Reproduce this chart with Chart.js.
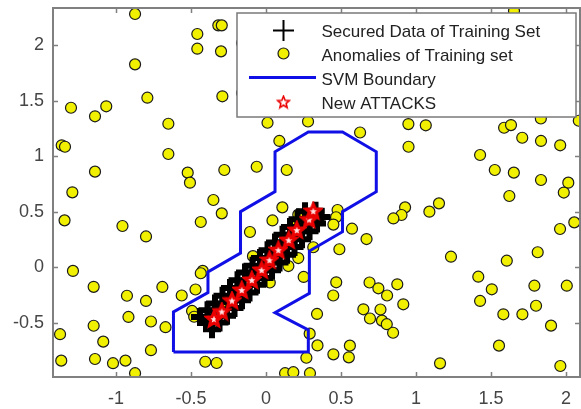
<!DOCTYPE html>
<html>
<head>
<meta charset="utf-8">
<script src="https://cdn.jsdelivr.net/npm/chart.js@4/dist/chart.umd.min.js"></script>
<style>
  html, body { margin: 0; padding: 0; background: #fff; }
  #wrap { width: 581px; height: 409px; }
</style>
</head>
<body>
<div id="wrap"><canvas id="chart" width="581" height="409"></canvas></div>
<script>
// Axis limits and tick labels
const xRange = [-1.42, 2.093];
const yRange = [-0.985, 2.334];
const xTicks = [-1, -0.5, 0, 0.5, 1, 1.5, 2];
const yTicks = [-0.5, 0, 0.5, 1, 1.5, 2];

const seriesLabels = [
    'Secured Data of Training Set',
    'Anomalies of Training set',
    'SVM Boundary',
    'New ATTACKS'
];

// Secured training data (black +), read along the diagonal band
const trainingPoints = [
    [-0.40, -0.50], [-0.35, -0.44], [-0.30, -0.38], [-0.25, -0.31], [-0.20, -0.24], [-0.15, -0.17],
    [-0.10, -0.10], [-0.05, -0.04], [0.00, 0.03], [0.05, 0.10], [0.10, 0.17], [0.15, 0.24],
    [0.20, 0.31], [0.25, 0.38], [0.30, 0.45], [0.33, 0.51],
    [-0.44, -0.445], [-0.39, -0.385], [-0.34, -0.325], [-0.29, -0.255], [-0.24, -0.185],
    [-0.19, -0.115], [-0.14, -0.045], [-0.09, 0.015], [-0.04, 0.085], [0.01, 0.155],
    [0.06, 0.225], [0.11, 0.295], [0.16, 0.365], [0.21, 0.435], [0.26, 0.505],
    [-0.36, -0.555], [-0.31, -0.495], [-0.26, -0.435], [-0.21, -0.365], [-0.16, -0.295],
    [-0.11, -0.225], [-0.06, -0.155], [-0.01, -0.095], [0.04, -0.025], [0.09, 0.045],
    [0.14, 0.115], [0.19, 0.185], [0.24, 0.255], [0.29, 0.325], [0.34, 0.395], [0.37, 0.455]
];

// New attacks (red stars)
const attackPoints = [
    [-0.347, -0.463], [-0.295, -0.396], [-0.227, -0.297], [-0.162, -0.202], [-0.095, -0.112],
    [-0.029, -0.022], [0.023, 0.067], [0.082, 0.157], [0.151, 0.247], [0.205, 0.337],
    [0.287, 0.432], [0.315, 0.508]
];

// SVM boundary polygon (closed)
const boundaryPoints = [
    [-0.617, -0.760], [-0.617, -0.400], [-0.387, -0.225], [-0.387, -0.040], [-0.170, 0.130],
    [-0.170, 0.502], [0.060, 0.682], [0.060, 1.041], [0.282, 1.219], [0.510, 1.219],
    [0.735, 1.041], [0.735, 0.682], [0.510, 0.502], [0.510, 0.322], [0.289, 0.148],
    [0.289, -0.232], [0.060, -0.406], [0.282, -0.562], [0.282, -0.760], [-0.617, -0.760]
];

// Anomalies of training set (yellow circles)
const anomalyPoints = [
    [-0.873, 2.280], [-0.458, 2.100], [-0.318, 2.178], [-0.295, 2.178], [-0.458, 1.968],
    [-0.300, 1.944], [-0.873, 1.827], [-0.791, 1.527], [-0.291, 1.540], [-1.300, 1.437],
    [-1.140, 1.360], [-1.065, 1.450], [-0.651, 1.293], [-1.362, 1.099], [-1.340, 1.086],
    [-0.651, 1.021], [-1.140, 0.862], [-0.522, 0.853], [-0.507, 0.763], [-0.278, 0.877],
    [-1.291, 0.676], [-0.351, 0.607], [0.010, 1.302], [0.089, 1.138], [-0.062, 0.906],
    [0.138, 0.877], [0.280, 1.313], [0.627, 1.214], [0.949, 1.290], [1.065, 1.279],
    [0.950, 1.086], [1.587, 1.257], [1.633, 1.281], [1.832, 1.340], [2.085, 1.320],
    [1.708, 1.167], [1.833, 1.138], [1.961, 1.099], [1.427, 1.012], [1.525, 0.877],
    [1.652, 0.853], [1.833, 0.787], [2.015, 0.763], [1.985, 0.674], [1.622, 0.643],
    [1.153, 0.577], [1.089, 0.502], [0.927, 0.541], [0.903, 0.472], [0.849, 0.441],
    [2.055, 0.406], [1.960, 0.346], [1.811, 0.137], [1.605, 0.061], [1.233, 0.097],
    [1.415, -0.083], [1.505, -0.196], [1.427, -0.301], [1.789, -0.164], [2.005, -0.164],
    [0.875, -0.151], [0.915, -0.331], [1.582, -0.421], [1.709, -0.421], [1.800, -0.344],
    [1.900, -0.523], [1.553, -0.703], [1.160, -0.862], [1.962, -0.886],
    [0.109, 0.541], [0.043, 0.423], [-0.107, 0.319], [0.215, 0.475], [0.477, 0.517],
    [0.467, 0.452], [0.449, 0.386], [0.573, 0.349], [0.670, 0.256], [0.489, 0.164],
    [0.315, 0.182], [0.215, 0.085], [0.149, 0.013], [-0.087, 0.102], [0.251, -0.085],
    [0.025, -0.135], [0.468, -0.133], [0.448, -0.252], [0.340, -0.418], [0.291, -0.595],
    [0.343, -0.701], [0.269, -0.812], [0.449, -0.781], [0.559, -0.703], [0.552, -0.808],
    [0.127, -0.951], [0.182, -0.942], [0.293, -0.951], [0.690, -0.135], [0.749, -0.187],
    [0.807, -0.252], [0.649, -0.376], [0.693, -0.459], [0.763, -0.378], [0.773, -0.478],
    [0.805, -0.510], [0.847, -0.587],
    [-0.435, 0.409], [-0.295, 0.487], [-1.343, 0.424], [-0.957, 0.373], [-0.800, 0.279],
    [-1.287, -0.031], [-0.422, -0.031], [-0.435, -0.052], [-1.149, -0.174], [-0.691, -0.175],
    [-0.927, -0.254], [-0.562, -0.252], [-0.470, -0.198], [-0.800, -0.301], [-0.493, -0.391],
    [-0.479, -0.443], [-0.917, -0.445], [-0.767, -0.486], [-1.149, -0.524], [-0.670, -0.537],
    [-1.373, -0.600], [-1.085, -0.667], [-0.767, -0.744], [-1.365, -0.838], [-1.140, -0.823],
    [-1.020, -0.861], [-0.937, -0.838], [-0.873, -0.951], [-0.405, -0.848], [-0.329, -0.859],
    [-0.160, 2.019], [-0.160, 1.569], [1.653, 2.307],
    [-0.251, -0.322], [0.071, 0.083], [0.205, 0.382]
];

const fontFamily = "'Liberation Sans', Arial, sans-serif";
const axisColor = '#808080';
const tickColor = '#454545';
const blue = 'rgb(15, 15, 230)';
const red = 'rgb(235, 0, 0)';

function starPath(g, cx, cy, R) {
    const r = R * 0.45;
    g.beginPath();
    for (let i = 0; i < 10; i++) {
        const rad = i % 2 === 0 ? R : r;
        const a = -Math.PI / 2 + i * Math.PI / 5;
        g.lineTo(cx + rad * Math.cos(a), cy + rad * Math.sin(a));
    }
    g.closePath();
}

// Star point style: hollow for the legend, red with a light core in the plot
function makeStar(size, lineWidth, solid) {
    const c = document.createElement('canvas');
    c.width = size;
    c.height = size;
    const g = c.getContext('2d');
    const cx = size / 2, cy = size / 2 + 0.5;
    const R = size / 2 - lineWidth / 2 - 0.5;
    starPath(g, cx, cy, R);
    g.fillStyle = solid ? red : '#fff';
    g.fill();
    g.lineWidth = lineWidth;
    g.strokeStyle = red;
    g.stroke();
    if (solid) {
        starPath(g, cx, cy, R * 0.45);
        g.fillStyle = 'rgb(255, 225, 225)';
        g.fill();
    }
    return c;
}
const starPlot = makeStar(20, 2.5, true);
const starLegend = makeStar(15, 1.6, false);

const toXY = arr => arr.map(p => ({ x: p[0], y: p[1] }));

// Box around plot area with inward ticks on all sides
const framePlugin = {
    id: 'frame',
    afterDatasetsDraw(chart) {
        const { ctx, chartArea: a, scales: { x, y } } = chart;
        ctx.save();
        ctx.strokeStyle = axisColor;
        ctx.lineWidth = 1.5;
        ctx.beginPath();
        xTicks.forEach(v => {
            const px = Math.round(x.getPixelForValue(v)) + 0.5;
            ctx.moveTo(px, a.bottom); ctx.lineTo(px, a.bottom - 5);
            ctx.moveTo(px, a.top); ctx.lineTo(px, a.top + 5);
        });
        yTicks.forEach(v => {
            const py = Math.round(y.getPixelForValue(v)) + 0.5;
            ctx.moveTo(a.left, py); ctx.lineTo(a.left + 5, py);
            ctx.moveTo(a.right, py); ctx.lineTo(a.right - 5, py);
        });
        ctx.stroke();
        ctx.lineWidth = 2;
        ctx.strokeRect(a.left, a.top, a.right - a.left, a.bottom - a.top);
        ctx.restore();
    }
};

// Legend box drawn inside the plot, top right
const legendPlugin = {
    id: 'boxLegend',
    afterDraw(chart) {
        const ctx = chart.ctx;
        const box = { left: 237, top: 13, right: 576, bottom: 117 };
        ctx.save();
        ctx.fillStyle = '#fff';
        ctx.fillRect(box.left, box.top, box.right - box.left, box.bottom - box.top);
        ctx.strokeStyle = '#7a7a7a';
        ctx.lineWidth = 1.5;
        ctx.strokeRect(box.left, box.top, box.right - box.left, box.bottom - box.top);

        const mx = 283.5;
        seriesLabels.forEach((label, i) => {
            const cy = 30.5 + 24 * i;
            if (i === 0) {
                ctx.strokeStyle = '#000';
                ctx.lineWidth = 2;
                ctx.beginPath();
                ctx.moveTo(mx - 10.5, cy); ctx.lineTo(mx + 10.5, cy);
                ctx.moveTo(mx, cy - 10.5); ctx.lineTo(mx, cy + 10.5);
                ctx.stroke();
            } else if (i === 1) {
                ctx.beginPath();
                ctx.arc(mx, cy - 1, 5.5, 0, Math.PI * 2);
                ctx.fillStyle = 'rgb(240, 240, 0)';
                ctx.fill();
                ctx.strokeStyle = '#1a1a1a';
                ctx.lineWidth = 1.2;
                ctx.stroke();
            } else if (i === 2) {
                ctx.strokeStyle = blue;
                ctx.lineWidth = 3;
                ctx.beginPath();
                ctx.moveTo(249, cy - 1); ctx.lineTo(316, cy - 1);
                ctx.stroke();
            } else {
                ctx.drawImage(starLegend, mx - 7.5, cy - 8);
            }
            ctx.fillStyle = '#222';
            ctx.font = '17px ' + fontFamily;
            ctx.textBaseline = 'alphabetic';
            ctx.textAlign = 'left';
            ctx.fillText(label, 321.5, cy + 6.3);
        });
        ctx.restore();
    }
};

new Chart(document.getElementById('chart'), {
    type: 'scatter',
    data: {
        datasets: [
            {
                label: seriesLabels[3],
                data: toXY(attackPoints),
                pointStyle: starPlot,
                pointRadius: 10,
                order: 0
            },
            {
                label: seriesLabels[2],
                data: toXY(boundaryPoints),
                showLine: true,
                borderColor: blue,
                borderWidth: 3,
                pointRadius: 0,
                tension: 0,
                fill: false,
                order: 1
            },
            {
                label: seriesLabels[0],
                data: toXY(trainingPoints),
                pointStyle: 'cross',
                pointRadius: 9,
                borderColor: '#000',
                borderWidth: 6,
                order: 2
            },
            {
                label: seriesLabels[1],
                data: toXY(anomalyPoints),
                pointStyle: 'circle',
                pointRadius: 5.5,
                backgroundColor: 'rgb(240, 240, 0)',
                borderColor: '#1a1a1a',
                borderWidth: 1.2,
                order: 3
            }
        ]
    },
    options: {
        responsive: false,
        animation: false,
        devicePixelRatio: 1,
        layout: { autoPadding: false, padding: { top: 8, right: 1, left: 0, bottom: 0 } },
        scales: {
            x: {
                type: 'linear',
                min: xRange[0],
                max: xRange[1],
                afterBuildTicks: s => { s.ticks = xTicks.map(v => ({ value: v })); },
                afterFit: s => { s.height = 32; s.paddingLeft = 0; s.paddingRight = 0; },
                grid: { display: false, drawTicks: false },
                border: { display: false },
                ticks: {
                    color: tickColor,
                    font: { family: fontFamily, size: 18 },
                    padding: 11,
                    maxRotation: 0,
                    autoSkip: false,
                    callback: v => String(v)
                }
            },
            y: {
                type: 'linear',
                min: yRange[0],
                max: yRange[1],
                afterBuildTicks: s => { s.ticks = yTicks.map(v => ({ value: v })); },
                afterFit: s => { s.width = 53; s.paddingTop = 0; s.paddingBottom = 0; },
                grid: { display: false, drawTicks: false },
                border: { display: false },
                ticks: {
                    color: tickColor,
                    font: { family: fontFamily, size: 18 },
                    padding: 9,
                    autoSkip: false,
                    callback: v => String(v)
                }
            }
        },
        plugins: {
            legend: { display: false },
            tooltip: { enabled: false }
        }
    },
    plugins: [framePlugin, legendPlugin]
});
</script>
</body>
</html>
